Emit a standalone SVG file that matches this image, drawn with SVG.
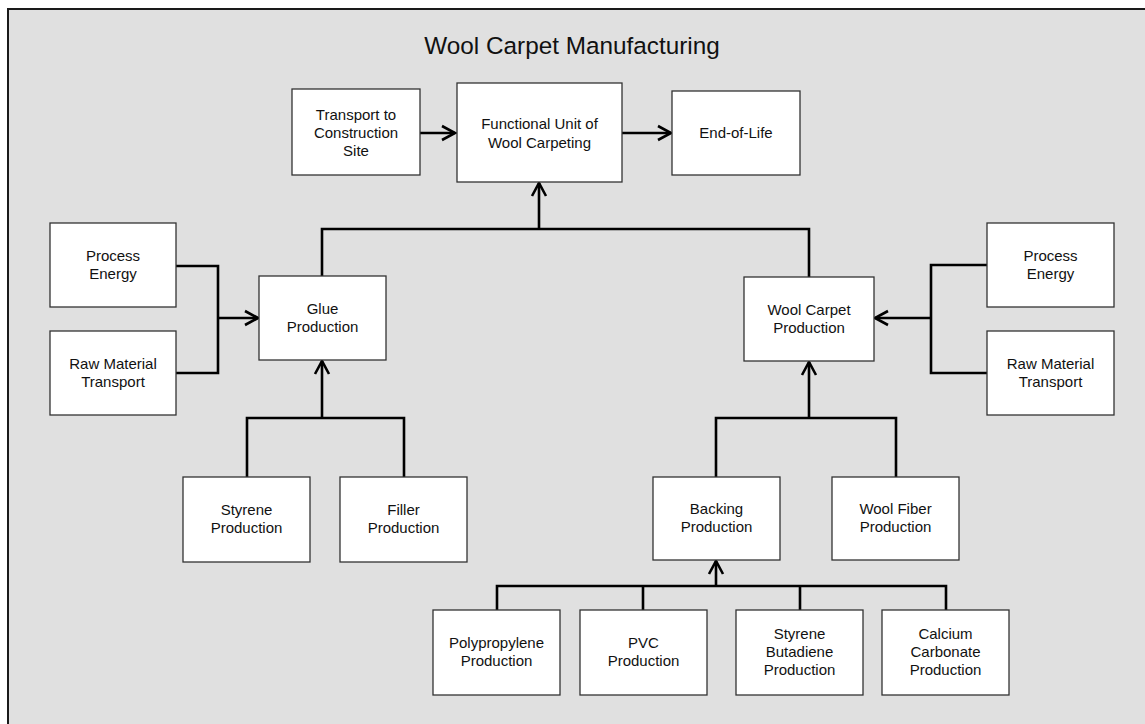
<svg xmlns="http://www.w3.org/2000/svg" width="1145" height="724" viewBox="0 0 1145 724">
<style>
.box{fill:#ffffff;stroke:#333333;stroke-width:1.3}
.t{font-family:"Liberation Sans",Arial,sans-serif;font-size:15px;fill:#111111;text-anchor:middle}
.c{fill:none;stroke:#000000;stroke-width:2.6}
</style>
<defs>
<marker id="arr" markerUnits="userSpaceOnUse" markerWidth="18" markerHeight="18" viewBox="0 0 18 18" refX="15" refY="9" orient="auto">
<path d="M2,2 L15,9 L2,16" fill="none" stroke="#000" stroke-width="2.6"/>
</marker>
</defs>
<rect x="0" y="0" width="1145" height="724" fill="#ffffff"/>
<rect x="7" y="8" width="1138" height="716" fill="#e0e0e0"/>
<path d="M8,724 V9 H1145" fill="none" stroke="#1a1a1a" stroke-width="2"/>
<text x="572" y="54" font-family="'Liberation Sans',Arial,sans-serif" font-size="24.3" fill="#111" text-anchor="middle">Wool Carpet Manufacturing</text>

<g id="connectors">
<path class="c" d="M420,133 H455" marker-end="url(#arr)"/>
<path class="c" d="M622,133 H671" marker-end="url(#arr)"/>
<path class="c" d="M322,276 V229 H809 V277"/>
<path class="c" d="M539,229 V183" marker-end="url(#arr)"/>
<path class="c" d="M176,266 H218 V373 H176"/>
<path class="c" d="M218,318 H258" marker-end="url(#arr)"/>
<path class="c" d="M247,477 V418 H404 V477"/>
<path class="c" d="M322,418 V361" marker-end="url(#arr)"/>
<path class="c" d="M987,265 H931 V373 H987"/>
<path class="c" d="M931,318 H875" marker-end="url(#arr)"/>
<path class="c" d="M716,477 V418 H896 V477"/>
<path class="c" d="M809,418 V362" marker-end="url(#arr)"/>
<path class="c" d="M497,610 V586 H946 V610 M643,586 V610 M800,586 V610"/>
<path class="c" d="M716,586 V561" marker-end="url(#arr)"/>
</g>

<g id="transport"><rect class="box" x="292" y="89" width="128" height="86"/>
<text class="t" x="356" y="120">Transport to</text><text class="t" x="356" y="138">Construction</text><text class="t" x="356" y="156">Site</text></g>
<g id="functional-unit"><rect class="box" x="457" y="83" width="165" height="99"/>
<text class="t" x="539.5" y="129">Functional Unit of</text><text class="t" x="539.5" y="148">Wool Carpeting</text></g>
<g id="end-of-life"><rect class="box" x="672" y="91" width="128" height="84"/>
<text class="t" x="736" y="138">End-of-Life</text></g>

<g id="process-energy-left"><rect class="box" x="50" y="223" width="126" height="84"/>
<text class="t" x="113" y="261">Process</text><text class="t" x="113" y="279">Energy</text></g>
<g id="raw-material-left"><rect class="box" x="50" y="331" width="126" height="84"/>
<text class="t" x="113" y="369">Raw Material</text><text class="t" x="113" y="387">Transport</text></g>
<g id="glue"><rect class="box" x="259" y="276" width="127" height="84"/>
<text class="t" x="322.5" y="314">Glue</text><text class="t" x="322.5" y="332">Production</text></g>
<g id="styrene"><rect class="box" x="183" y="477" width="127" height="85"/>
<text class="t" x="246.5" y="515">Styrene</text><text class="t" x="246.5" y="533">Production</text></g>
<g id="filler"><rect class="box" x="340" y="477" width="127" height="85"/>
<text class="t" x="403.5" y="515">Filler</text><text class="t" x="403.5" y="533">Production</text></g>

<g id="wool-carpet"><rect class="box" x="744" y="277" width="130" height="84"/>
<text class="t" x="809" y="315">Wool Carpet</text><text class="t" x="809" y="333">Production</text></g>
<g id="process-energy-right"><rect class="box" x="987" y="223" width="127" height="84"/>
<text class="t" x="1050.5" y="261">Process</text><text class="t" x="1050.5" y="279">Energy</text></g>
<g id="raw-material-right"><rect class="box" x="987" y="331" width="127" height="84"/>
<text class="t" x="1050.5" y="369">Raw Material</text><text class="t" x="1050.5" y="387">Transport</text></g>
<g id="backing"><rect class="box" x="653" y="477" width="127" height="83"/>
<text class="t" x="716.5" y="514">Backing</text><text class="t" x="716.5" y="532">Production</text></g>
<g id="wool-fiber"><rect class="box" x="832" y="477" width="127" height="83"/>
<text class="t" x="895.5" y="514">Wool Fiber</text><text class="t" x="895.5" y="532">Production</text></g>

<g id="polypropylene"><rect class="box" x="433" y="610" width="127" height="85"/>
<text class="t" x="496.5" y="648">Polypropylene</text><text class="t" x="496.5" y="666">Production</text></g>
<g id="pvc"><rect class="box" x="580" y="610" width="127" height="85"/>
<text class="t" x="643.5" y="648">PVC</text><text class="t" x="643.5" y="666">Production</text></g>
<g id="styrene-butadiene"><rect class="box" x="736" y="610" width="127" height="85"/>
<text class="t" x="799.5" y="639">Styrene</text><text class="t" x="799.5" y="657">Butadiene</text><text class="t" x="799.5" y="675">Production</text></g>
<g id="calcium-carbonate"><rect class="box" x="882" y="610" width="127" height="85"/>
<text class="t" x="945.5" y="639">Calcium</text><text class="t" x="945.5" y="657">Carbonate</text><text class="t" x="945.5" y="675">Production</text></g>
</svg>
